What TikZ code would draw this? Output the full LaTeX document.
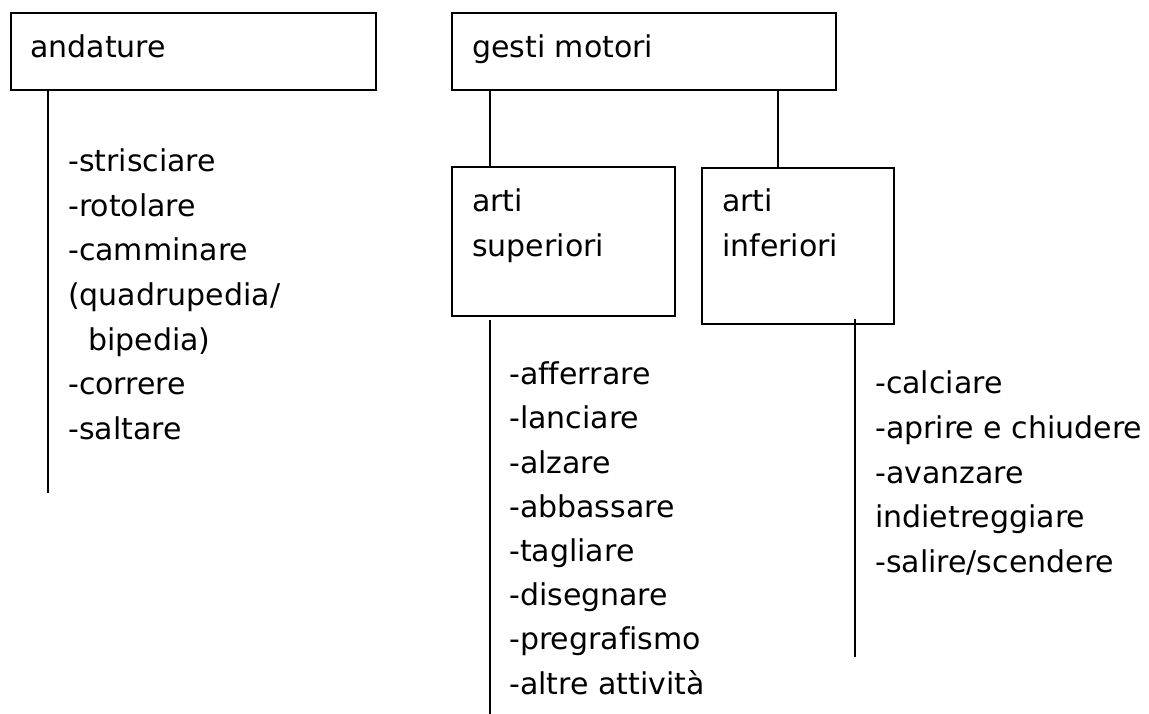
\documentclass[tikz,border=0pt]{standalone}
\usepackage{fontspec}
\setmainfont[Ligatures={NoCommon}]{DejaVu Sans}
\begin{document}
\begin{tikzpicture}[x=1pt,y=-1pt,
  box/.style={draw=black,line width=1.6pt,rectangle,inner sep=0pt,anchor=north west},
  txt/.style={anchor=base west,inner sep=0pt,font=\fontsize{30}{36}\selectfont},
  conn/.style={draw=black,line width=1.6pt}]
\useasboundingbox (0,0) rectangle (1149,714);
% boxes
\node[box,minimum width=365pt,minimum height=77pt] (and) at (10,12) {};
\node[box,minimum width=384pt,minimum height=77pt] (ges) at (451,12) {};
\node[box,minimum width=223pt,minimum height=149pt] (sup) at (451,166) {};
\node[box,minimum width=192pt,minimum height=156pt] (inf) at (701,167) {};
% box texts
\node[txt] (tand) at (30,58) {andature};
\node[txt] (tges) at (472,58) {gesti motori};
\node[txt] (tsup1) at (472,212) {arti};
\node[txt] (tsup2) at (472,257) {superiori};
\node[txt] (tinf1) at (722,212) {arti};
\node[txt] (tinf2) at (722,257) {inferiori};
% free ends
\coordinate (andEnd) at (48,493);
\coordinate (supTop) at (490,320);
\coordinate (supEnd) at (490,714);
\coordinate (infTop) at (855,319);
\coordinate (infEnd) at (855,657);
% connectors
\draw[conn] ([xshift=38pt]and.south west) -- (andEnd);
\draw[conn] ([xshift=39pt]ges.south west) -- ([xshift=39pt]sup.north west);
\draw[conn] ([xshift=327pt]ges.south west) -- ([xshift=77pt]inf.north west);
\draw[conn] (supTop) -- (supEnd);
\draw[conn] (infTop) -- (infEnd);
% andature list
\node[txt] (a1) at (68,172) {-strisciare};
\node[txt] (a2) at (68,216.5) {-rotolare};
\node[txt] (a3) at (68,261) {-camminare};
\node[txt] (a4) at (68,305.5) {(quadrupedia/};
\node[txt] (a5) at (88,350) {bipedia)};
\node[txt] (a6) at (68,394.5) {-correre};
\node[txt] (a7) at (68,439) {-saltare};
% superiori list
\node[txt] (s1) at (509,384) {-afferrare};
\node[txt] (s2) at (509,428.5) {-lanciare};
\node[txt] (s3) at (509,473) {-alzare};
\node[txt] (s4) at (509,517) {-abbassare};
\node[txt] (s5) at (509,561) {-tagliare};
\node[txt] (s6) at (509,605) {-disegnare};
\node[txt] (s7) at (509,649.5) {-pregrafismo};
\node[txt] (s8) at (509,694) {-altre attività};
% inferiori list
\node[txt] (i1) at (875,393) {-calciare};
\node[txt] (i2) at (875,438) {-aprire e chiudere};
\node[txt] (i3) at (875,483) {-avanzare};
\node[txt] (i4) at (875,527.5) {indietreggiare};
\node[txt] (i5) at (875,572) {-salire/scendere};
\end{tikzpicture}
\end{document}
